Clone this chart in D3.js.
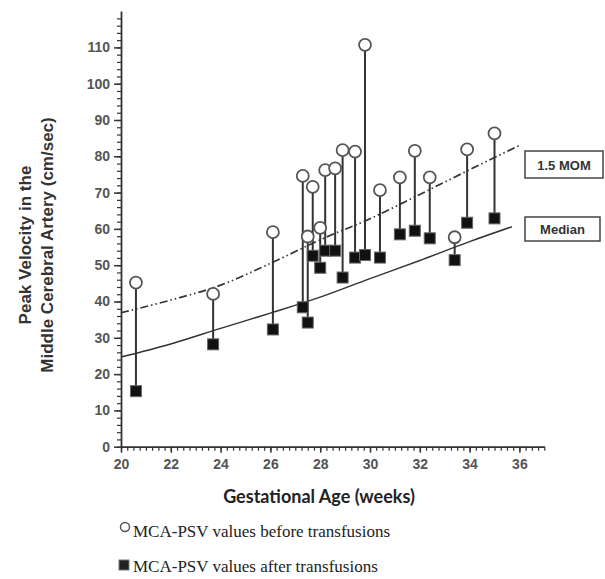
<!DOCTYPE html>
<html>
<head>
<meta charset="utf-8">
<script src="https://cdn.jsdelivr.net/npm/d3@7"></script>
<style>
  body { margin: 0; background: #fff; }
  svg { display: block; }
</style>
</head>
<body>
<div id="chart"></div>
<script>
"use strict"

// gestational age (weeks) of each transfusion, MCA-PSV before and after
const weeks  = [20.6, 23.7, 26.1, 27.3, 27.5, 27.7, 28.0, 28.2, 28.6, 28.9, 29.4, 29.8, 30.4, 31.2, 31.8, 32.4, 33.4, 33.9, 35.0];
const before = [45.2, 42.1, 59.1, 74.6, 57.9, 71.6, 60.3, 76.2, 76.7, 81.7, 81.3, 110.7, 70.7, 74.2, 81.5, 74.2, 57.7, 81.9, 86.3];
const after  = [15.3, 28.2, 32.3, 38.4, 34.2, 52.6, 49.3, 54.0, 54.0, 46.6, 52.1, 52.8, 52.1, 58.5, 59.5, 57.4, 51.4, 61.7, 62.9];

// reference curves
const medianWeeks = [20, 22, 24, 26, 28, 30, 32, 34, 35.7];
const medianVals  = [24.7, 28.3, 32.6, 36.8, 41.2, 46.3, 51.3, 56.5, 60.6];
const momWeeks = [20, 22, 24, 26, 28, 30, 32, 34, 36];
const momVals  = [36.9, 40.4, 44.5, 50.5, 57.0, 62.8, 69.5, 76.3, 83.0];

const xTicks = [20, 22, 24, 26, 28, 30, 32, 34, 36];
const yTicks = [0, 10, 20, 30, 40, 50, 60, 70, 80, 90, 100, 110];

const W = 605, H = 579;

const svg = d3.select("#chart").append("svg")
  .attr("width", W)
  .attr("height", H);

const x = d3.scaleLinear().domain([20, 37]).range([121, 544.3]);
const y = d3.scaleLinear().domain([0, 120]).range([446.7, 11.1]);

const axisColor = "#333";

// minor ticks
svg.append("g")
  .attr("transform", "translate(" + x(20) + ",0)")
  .call(d3.axisLeft(y).tickValues(d3.range(0, 120, 2)).tickSize(4).tickSizeOuter(0).tickFormat(""))
  .call(g => g.select(".domain").remove())
  .selectAll("line").attr("stroke", axisColor).attr("stroke-width", 1.2);

svg.append("g")
  .attr("transform", "translate(0," + y(0) + ")")
  .call(d3.axisBottom(x).tickValues(d3.range(20, 37.01, 0.25)).tickSize(4).tickSizeOuter(0).tickFormat(""))
  .call(g => g.select(".domain").remove())
  .selectAll("line").attr("stroke", axisColor).attr("stroke-width", 1.2);

// major axes
const yAxis = svg.append("g")
  .attr("transform", "translate(" + x(20) + ",0)")
  .call(d3.axisLeft(y).tickValues(yTicks).tickSize(7).tickSizeOuter(0).tickPadding(4));

const xAxis = svg.append("g")
  .attr("transform", "translate(0," + y(0) + ")")
  .call(d3.axisBottom(x).tickValues(xTicks).tickSize(6).tickSizeOuter(0).tickPadding(6));

[yAxis, xAxis].forEach(g => {
  g.select(".domain").attr("stroke", axisColor).attr("stroke-width", 1.8);
  g.selectAll(".tick line").attr("stroke", axisColor).attr("stroke-width", 1.5);
  g.selectAll(".tick text")
    .attr("fill", "#555")
    .style("font-family", "Liberation Sans, Arial, sans-serif")
    .style("font-size", "14px")
    .style("font-weight", "bold");
});

// reference curves
const medLine = d3.line()
  .x((d, i) => x(medianWeeks[i]))
  .y(d => y(d))
  .curve(d3.curveMonotoneX);

const momLine = d3.line()
  .x((d, i) => x(momWeeks[i]))
  .y(d => y(d))
  .curve(d3.curveMonotoneX);

svg.append("path")
  .attr("d", momLine(momVals))
  .attr("fill", "none")
  .attr("stroke", "#333")
  .attr("stroke-width", 1.7)
  .attr("stroke-dasharray", "8,3,1.5,3,1.5,3");

svg.append("path")
  .attr("d", medLine(medianVals))
  .attr("fill", "none")
  .attr("stroke", "#333")
  .attr("stroke-width", 1.5);

// stems between before and after
const pairs = weeks.map((w, i) => ({w: w, b: before[i], a: after[i]}));

svg.append("g")
  .selectAll("line")
  .data(pairs)
  .join("line")
    .attr("x1", d => x(d.w))
    .attr("x2", d => x(d.w))
    .attr("y1", d => y(d.b))
    .attr("y2", d => y(d.a))
    .attr("stroke", "#333")
    .attr("stroke-width", 2);

svg.append("g")
  .selectAll("rect")
  .data(pairs)
  .join("rect")
    .attr("x", d => x(d.w) - 5.5)
    .attr("y", d => y(d.a) - 5.5)
    .attr("width", 11)
    .attr("height", 11)
    .attr("fill", "#111")
    .attr("stroke", "#666")
    .attr("stroke-width", 1);

svg.append("g")
  .selectAll("circle")
  .data(pairs)
  .join("circle")
    .attr("cx", d => x(d.w))
    .attr("cy", d => y(d.b))
    .attr("r", 6)
    .attr("fill", "#fff")
    .attr("stroke", "#555")
    .attr("stroke-width", 1.8);

// curve labels
function boxLabel(txt, bx, by, bw, bh) {
  svg.append("rect")
    .attr("x", bx).attr("y", by)
    .attr("width", bw).attr("height", bh)
    .attr("fill", "#fff")
    .attr("stroke", "#444")
    .attr("stroke-width", 1.5);
  svg.append("text")
    .attr("x", bx + bw / 2)
    .attr("y", by + bh / 2 + 5)
    .attr("text-anchor", "middle")
    .attr("fill", "#333")
    .style("font-family", "Liberation Sans, Arial, sans-serif")
    .style("font-size", "13px")
    .style("font-weight", "bold")
    .text(txt);
}
boxLabel("1.5 MOM", 525, 151, 78, 27);
boxLabel("Median", 525, 217, 75, 24);

// axis titles
const yTitle = svg.append("text")
  .attr("transform", "translate(39,245) rotate(-90)")
  .attr("text-anchor", "middle")
  .attr("fill", "#333")
  .style("font-family", "Liberation Sans, Arial, sans-serif")
  .style("font-size", "17px")
  .style("font-weight", "bold");
yTitle.append("tspan").attr("x", 0).attr("dy", "-0.45em").text("Peak Velocity in the");
yTitle.append("tspan").attr("x", 0).attr("dy", "1.3em").text("Middle Cerebral Artery (cm/sec)");

svg.append("text")
  .attr("x", 319)
  .attr("y", 503)
  .attr("text-anchor", "middle")
  .attr("fill", "#222")
  .style("font-family", "Lato, sans-serif")
  .style("font-size", "18px")
  .style("font-weight", "bold")
  .text("Gestational Age (weeks)");

// legend
const legend = svg.append("g")
  .style("font-family", "Liberation Serif, Times New Roman, serif")
  .style("font-size", "17px")
  .attr("fill", "#222");

legend.append("circle")
  .attr("cx", 125).attr("cy", 527).attr("r", 4.5)
  .attr("fill", "#fff").attr("stroke", "#555").attr("stroke-width", 1.5);
legend.append("text").attr("x", 133).attr("y", 537).text("MCA-PSV  values before transfusions");

legend.append("rect")
  .attr("x", 119).attr("y", 560).attr("width", 10).attr("height", 10)
  .attr("fill", "#222").attr("stroke", "#777");
legend.append("text").attr("x", 133).attr("y", 572).text("MCA-PSV  values  after transfusions");
</script>
</body>
</html>
